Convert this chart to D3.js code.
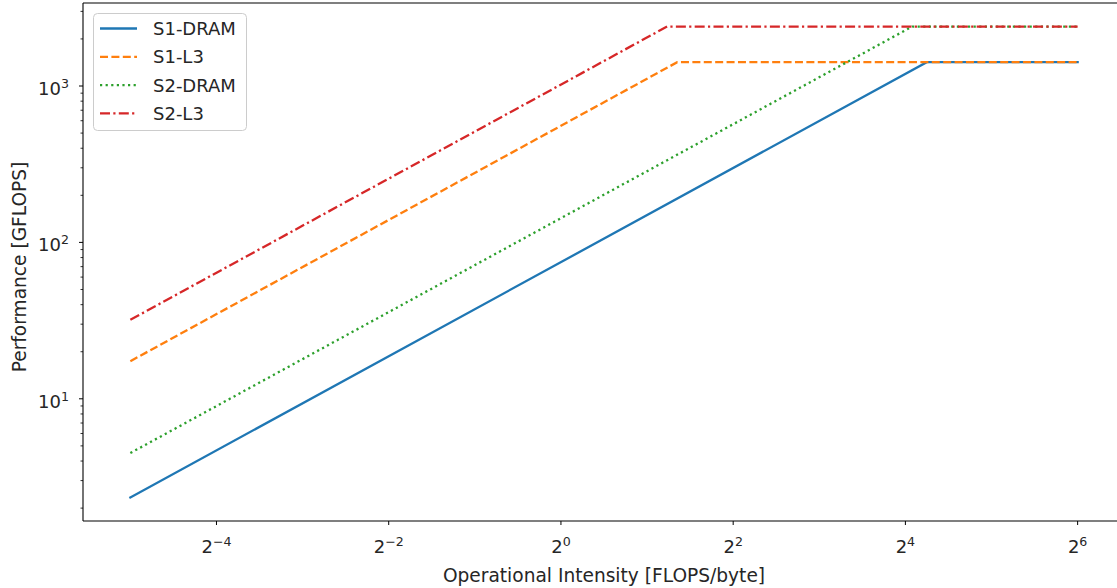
<!DOCTYPE html>
<html>
<head>
<meta charset="utf-8">
<script src="https://cdn.jsdelivr.net/npm/d3@7"></script>
<style>
  html, body { margin: 0; padding: 0; background: #fff; }
  svg { display: block; font-family: "DejaVu Sans", sans-serif; }
</style>
</head>
<body>
<svg id="chart" width="1117" height="588"></svg>
<script>
// ---- data ----
const seriesNames = ["S1-DRAM", "S1-L3", "S2-DRAM", "S2-L3"];
const s1DramX = [0.03125, 19.0, 64];
const s1DramY = [2.34, 1420, 1420];
const s1L3X = [0.03125, 2.55, 64];
const s1L3Y = [17.4, 1420, 1420];
const s2DramX = [0.03125, 16.9, 64];
const s2DramY = [4.5, 2400, 2400];
const s2L3X = [0.03125, 2.35, 64];
const s2L3Y = [32.0, 2400, 2400];
const xTickExps = [-4, -2, 0, 2, 4, 6];
const yTickExps = [1, 2, 3];
const xLabel = "Operational Intensity [FLOPS/byte]";
const yLabel = "Performance [GFLOPS]";

const colors = ["#1f77b4", "#ff7f0e", "#2ca02c", "#d62728"];
const dashes = [null, "8,3.4", "2.2,3.4", "10,3.3,2.2,3.3"];

const series = [
  {name: seriesNames[0], xs: s1DramX, ys: s1DramY},
  {name: seriesNames[1], xs: s1L3X, ys: s1L3Y},
  {name: seriesNames[2], xs: s2DramX, ys: s2DramY},
  {name: seriesNames[3], xs: s2L3X, ys: s2L3Y}
];

const svg = d3.select("#chart");
const L = 83, R = 1125, T = 3, B = 521;

// domains with matplotlib-like 5% margins in log space
const allX = series.flatMap(s => s.xs), allY = series.flatMap(s => s.ys);
const lx0 = Math.log2(d3.min(allX)), lx1 = Math.log2(d3.max(allX));
const mx = (lx1 - lx0) * 0.05;
const ly0 = Math.log10(d3.min(allY)), ly1 = Math.log10(d3.max(allY));
const my = (ly1 - ly0) * 0.05;

const x = d3.scaleLog().base(2).domain([Math.pow(2, lx0 - mx), Math.pow(2, lx1 + mx)]).range([L, R]);
const y = d3.scaleLog().base(10).domain([Math.pow(10, ly0 - my), Math.pow(10, ly1 + my)]).range([B, T]);

svg.append("defs").append("clipPath").attr("id", "clip")
  .append("rect").attr("x", L).attr("y", T).attr("width", R - L).attr("height", B - T);

// lines
const line = d3.line().x(d => x(d[0])).y(d => y(d[1]));
const g = svg.append("g").attr("clip-path", "url(#clip)");
series.forEach((s, i) => {
  g.append("path")
    .datum(s.xs.map((v, j) => [v, s.ys[j]]))
    .attr("d", line)
    .attr("fill", "none")
    .attr("stroke", colors[i])
    .attr("stroke-width", 2.3)
    .attr("stroke-dasharray", dashes[i])
    .attr("stroke-linecap", dashes[i] ? "butt" : "square");
});

// axes frame
const frame = svg.append("g").attr("stroke", "#000").attr("stroke-width", 1.1).attr("fill", "none");
frame.append("line").attr("x1", L).attr("x2", R).attr("y1", B).attr("y2", B);
frame.append("line").attr("x1", L).attr("x2", R).attr("y1", T).attr("y2", T);
frame.append("line").attr("x1", L).attr("x2", L).attr("y1", T).attr("y2", B);
frame.append("line").attr("x1", R).attr("x2", R).attr("y1", T).attr("y2", B);

const fs = 18;
const lfs = 18.6;
// x ticks
const xAxis = svg.append("g");
xTickExps.forEach(e => {
  const px = x(Math.pow(2, e));
  xAxis.append("line").attr("x1", px).attr("x2", px).attr("y1", B).attr("y2", B + 4)
    .attr("stroke", "#000").attr("stroke-width", 1);
  const t = xAxis.append("text").attr("x", px).attr("y", 553)
    .attr("text-anchor", "middle").attr("font-size", fs).attr("fill", "#262626");
  t.append("tspan").text("2");
  t.append("tspan").attr("font-size", 12.6).attr("dy", -7).text(e < 0 ? "\u2212" + (-e) : String(e));
});

// y ticks (major + minor)
const yAxis = svg.append("g");
const [yd0, yd1] = y.domain();
for (let dec = Math.floor(Math.log10(yd0)); dec <= Math.ceil(Math.log10(yd1)); dec++) {
  for (let m = 1; m <= 9; m++) {
    const v = m * Math.pow(10, dec);
    if (v < yd0 || v > yd1) continue;
    const py = y(v);
    const len = m === 1 ? 4 : 2.5;
    yAxis.append("line").attr("x1", L - len).attr("x2", L).attr("y1", py).attr("y2", py)
      .attr("stroke", "#000").attr("stroke-width", m === 1 ? 1 : 0.8);
  }
}
yTickExps.forEach(e => {
  const py = y(Math.pow(10, e));
  const t = yAxis.append("text").attr("x", 69).attr("y", py + 9)
    .attr("text-anchor", "end").attr("font-size", fs).attr("fill", "#262626");
  t.append("tspan").text("10");
  t.append("tspan").attr("font-size", 12.6).attr("dy", -7).text(String(e));
});

// axis labels
svg.append("text").attr("x", (L + R) / 2).attr("y", 581.5)
  .attr("text-anchor", "middle").attr("font-size", lfs).attr("fill", "#262626").text(xLabel);
svg.append("text").attr("transform", `translate(25.5,${(T + B) / 2 + 5}) rotate(-90)`)
  .attr("text-anchor", "middle").attr("font-size", lfs).attr("fill", "#262626").text(yLabel);

// legend
const lg = svg.append("g");
lg.append("rect").attr("x", 93.5).attr("y", 13.5).attr("width", 153).attr("height", 117)
  .attr("rx", 4).attr("fill", "#fff").attr("fill-opacity", 0.8)
  .attr("stroke", "#cccccc").attr("stroke-width", 1);
series.forEach((s, i) => {
  const cy = 28.5 + i * 28.3;
  lg.append("line").attr("x1", 100).attr("x2", 137).attr("y1", cy).attr("y2", cy)
    .attr("stroke", colors[i]).attr("stroke-width", 2.3)
    .attr("stroke-dasharray", dashes[i]);
  lg.append("text").attr("x", 153).attr("y", cy + 6.5).attr("font-size", fs)
    .attr("fill", "#262626").text(s.name);
});
</script>
</body>
</html>
